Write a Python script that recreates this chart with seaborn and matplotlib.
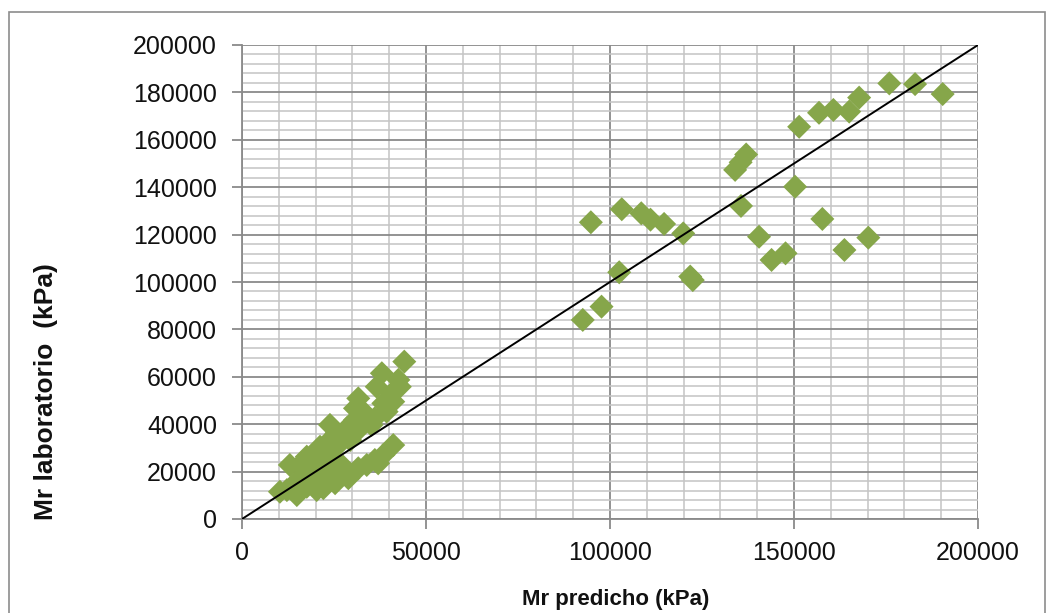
import matplotlib
matplotlib.use("Agg")
import matplotlib.pyplot as plt
from matplotlib.ticker import MultipleLocator
from matplotlib.patches import Rectangle
import seaborn as sns
import pandas as pd

# Mr predicho (kPa) vs Mr laboratorio (kPa)
mr_predicho = [
    # high group
    151400, 156800, 160700, 165000, 167700, 175900, 182900, 190400, 150300,
    134000, 135500, 137000, 135600, 157700, 140500, 170200, 143900, 147700, 163700,
    94800, 103200, 108500, 111000, 114700, 119900, 102500, 121800, 122500, 97700, 92600,
    # low cluster
    44100, 38000, 42500, 42900, 40700, 36600, 31600, 38400, 41100, 30700, 33400, 36100,
    39300, 23900, 30700, 25700, 28500, 31600, 35200, 26600, 29400, 23000, 20300, 17600,
    13000, 16200, 22100, 24800, 27500, 28900, 41100, 38400, 36100, 33900, 31600, 37000,
    26200, 23900, 22100, 20300, 17600, 14900, 12200, 10300, 15300, 18900, 22100, 17600,
    20300, 23500, 21200, 25300, 21200, 18900,
]
mr_laboratorio = [
    165500, 171400, 172600, 171900, 177800, 183800, 183500, 179300, 140200,
    147300, 150500, 153800, 132100, 126600, 119100, 118700, 109300, 112100, 113500,
    125200, 130700, 129000, 126300, 124500, 120500, 104100, 102300, 100800, 89600, 84000,
    66400, 61500, 58700, 55800, 53000, 55800, 50900, 48800, 49500, 46700, 44600, 42500,
    45300, 39700, 41800, 36200, 38300, 37600, 39700, 31900, 33300, 31900, 27700, 26300,
    22800, 23500, 24200, 25600, 22100, 17200, 31200, 27000, 24900, 22800, 21400, 23500,
    19300, 16500, 13000, 12200, 13600, 10100, 12200, 11500, 16500, 18600, 19300, 20700,
    20700, 21400, 16500, 15100, 30500, 25600,
]

# 1:1 reference line
ref_x = [0, 200000]
ref_y = [0, 200000]

x_ticks = [0, 50000, 100000, 150000, 200000]
y_ticks = [0, 20000, 40000, 60000, 80000, 100000, 120000, 140000, 160000, 180000, 200000]

df = pd.DataFrame({"pred": mr_predicho, "lab": mr_laboratorio})
df_ref = pd.DataFrame({"x": ref_x, "y": ref_y})

sns.set_theme(style="white")
plt.rcParams["font.family"] = ["Liberation Sans", "DejaVu Sans"]

fig = plt.figure(figsize=(10.53, 6.13), dpi=100)
ax = fig.add_axes([242 / 1053, 1 - 519 / 613, (978 - 242) / 1053, (519 - 45) / 613])

# outer chart border
fig.patches.append(Rectangle((9 / 1053, -0.02), (1045 - 9) / 1053, 1 - 12 / 613 + 0.02,
                             transform=fig.transFigure, fill=False,
                             edgecolor="#8c8c8c", linewidth=1.2, zorder=0))

sns.scatterplot(data=df, x="pred", y="lab", marker="D", s=150, color="#86A64A",
                edgecolor="none", linewidth=0, ax=ax, zorder=3)
sns.lineplot(data=df_ref, x="x", y="y", color="black", linewidth=1.4, ax=ax, zorder=4)

ax.set_xlim(0, 200000)
ax.set_ylim(0, 200000)
ax.set_xticks(x_ticks)
ax.set_yticks(y_ticks)
ax.set_xticklabels([str(v) for v in x_ticks])
ax.set_yticklabels([str(v) for v in y_ticks])
ax.xaxis.set_minor_locator(MultipleLocator(10000))
ax.yaxis.set_minor_locator(MultipleLocator(4000))

ax.grid(which="major", color="#8a8a8a", linewidth=1.3, zorder=0)
ax.grid(which="minor", color="#c4c4c4", linewidth=1.1, zorder=0)
ax.set_axisbelow(True)

for side in ["left", "bottom"]:
    ax.spines[side].set_color("#8a8a8a")
    ax.spines[side].set_linewidth(1.3)
for side in ["top", "right"]:
    ax.spines[side].set_visible(False)

ax.tick_params(which="major", length=7, width=1.3, color="#8a8a8a",
               labelsize=18, left=True, bottom=True, labelcolor="#111111")
ax.tick_params(axis="y", which="major", pad=11)
ax.tick_params(axis="x", which="major", pad=9)
ax.tick_params(which="minor", length=0)

ax.set_xlabel("Mr predicho (kPa)", fontsize=16, fontweight="bold", color="#111111")
ax.set_ylabel("Mr laboratorio  (kPa)", fontsize=19, fontweight="bold", color="#111111")
ax.xaxis.set_label_coords(0.508, -0.148)
ax.yaxis.set_label_coords(-0.25, 0.268)

fig.savefig("out.png", dpi=100)
